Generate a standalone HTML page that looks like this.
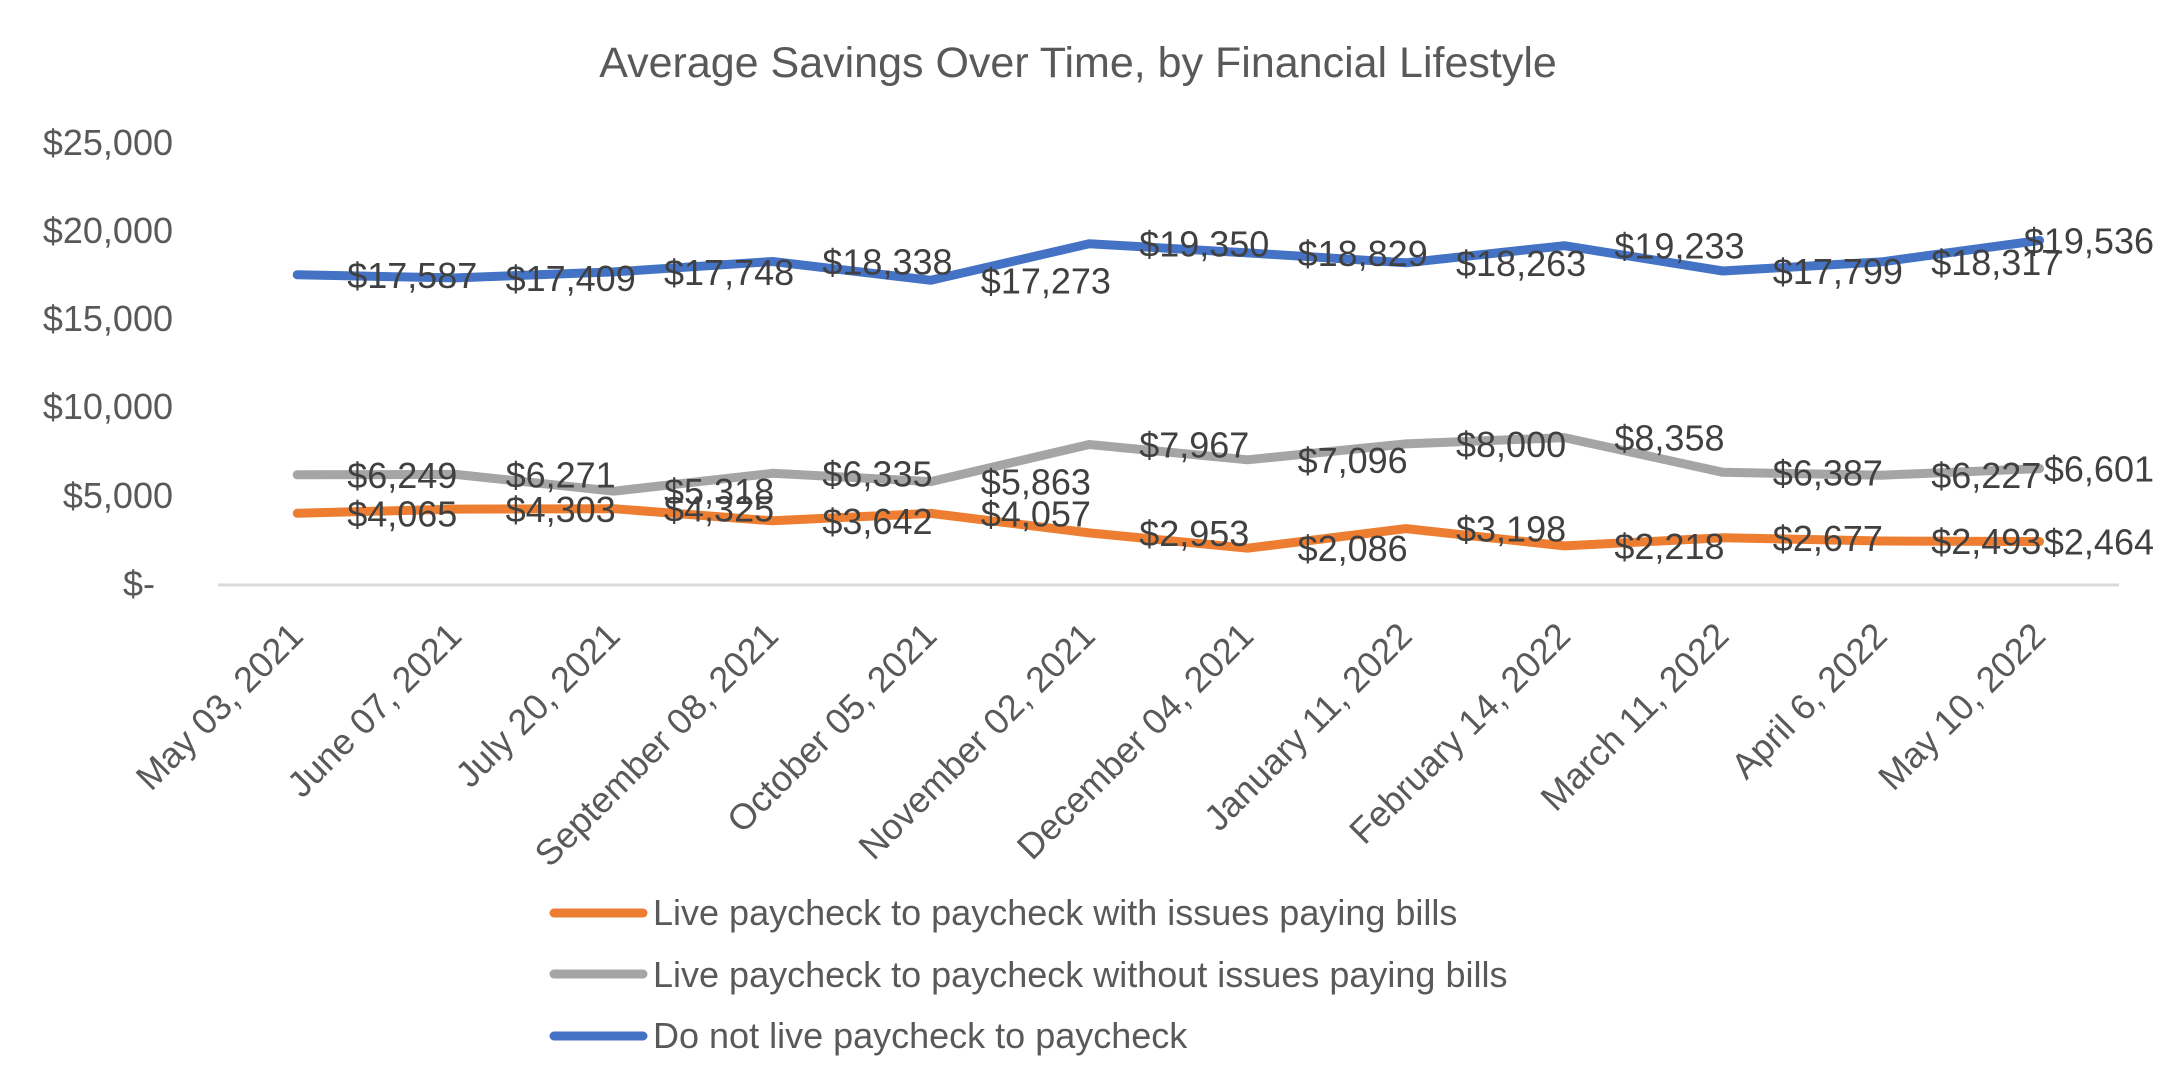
<!DOCTYPE html>
<html>
<head>
<meta charset="utf-8">
<style>
  html, body { margin: 0; padding: 0; background: #ffffff; }
  svg { display: block; }
  text { font-family: "Liberation Sans", Arial, sans-serif; }
</style>
</head>
<body>
<svg width="2177" height="1072" viewBox="0 0 2177 1072" xmlns="http://www.w3.org/2000/svg">
  <rect width="2177" height="1072" fill="#ffffff"/>

  <!-- Title -->
  <text x="1078" y="77" font-size="43" fill="#595959" text-anchor="middle">Average Savings Over Time, by Financial Lifestyle</text>

  <!-- Y axis labels -->
  <g font-size="36" fill="#595959" text-anchor="end">
    <text x="173" y="155">$25,000</text>
    <text x="173" y="243">$20,000</text>
    <text x="173" y="331">$15,000</text>
    <text x="173" y="419">$10,000</text>
    <text x="173" y="508">$5,000</text>
    <text x="155" y="596">$-</text>
  </g>

  <!-- X axis line -->
  <line x1="218" y1="585" x2="2119" y2="585" stroke="#d9d9d9" stroke-width="3"/>

  <!-- X axis labels -->
  <g font-size="36" fill="#595959" text-anchor="end">
    <text transform="translate(305.2,638) rotate(-45)">May 03, 2021</text>
    <text transform="translate(463.6,638) rotate(-45)">June 07, 2021</text>
    <text transform="translate(622,638) rotate(-45)">July 20, 2021</text>
    <text transform="translate(780.4,638) rotate(-45)">September 08, 2021</text>
    <text transform="translate(938.8,638) rotate(-45)">October 05, 2021</text>
    <text transform="translate(1097.2,638) rotate(-45)">November 02, 2021</text>
    <text transform="translate(1255.6,638) rotate(-45)">December 04, 2021</text>
    <text transform="translate(1414,638) rotate(-45)">January 11, 2022</text>
    <text transform="translate(1572.4,638) rotate(-45)">February 14, 2022</text>
    <text transform="translate(1730.8,638) rotate(-45)">March 11, 2022</text>
    <text transform="translate(1889.2,638) rotate(-45)">April 6, 2022</text>
    <text transform="translate(2047.6,638) rotate(-45)">May 10, 2022</text>
  </g>

  <!-- Series lines -->
  <g fill="none" stroke-width="9" stroke-linecap="round" stroke-linejoin="round">
    <polyline stroke="#ED7D31" points="297.2,513.3 455.6,509.1 614,508.7 772.4,520.8 930.8,513.4 1089.2,532.9 1247.6,548.2 1406,528.6 1564.4,545.9 1722.8,537.8 1881.2,541 2039.6,541.5"/>
    <polyline stroke="#A5A5A5" points="297.2,474.8 455.6,474.4 614,491.2 772.4,473.3 930.8,481.6 1089.2,444.5 1247.6,459.8 1406,443.9 1564.4,437.6 1722.8,472.3 1881.2,475.2 2039.6,468.6"/>
    <polyline stroke="#4472C4" points="297.2,274.8 455.6,277.9 614,271.9 772.4,261.5 930.8,280.3 1089.2,243.7 1247.6,252.9 1406,262.8 1564.4,245.7 1722.8,271 1881.2,261.9 2039.6,240.4"/>
  </g>

  <!-- Data labels: orange -->
  <g font-size="36" fill="#404040">
    <text x="347.2" y="526.3">$4,065</text>
    <text x="505.6" y="522.1">$4,303</text>
    <text x="664" y="521.7">$4,325</text>
    <text x="822.4" y="533.8">$3,642</text>
    <text x="980.8" y="526.4">$4,057</text>
    <text x="1139.2" y="545.9">$2,953</text>
    <text x="1297.6" y="561.2">$2,086</text>
    <text x="1456" y="541.6">$3,198</text>
    <text x="1614.4" y="558.9">$2,218</text>
    <text x="1772.8" y="550.8">$2,677</text>
    <text x="1931.2" y="554">$2,493</text>
    <text x="2154" y="554.5" text-anchor="end">$2,464</text>
  </g>

  <!-- Data labels: gray -->
  <g font-size="36" fill="#404040">
    <text x="347.2" y="487.8">$6,249</text>
    <text x="505.6" y="487.4">$6,271</text>
    <text x="664" y="504.2">$5,318</text>
    <text x="822.4" y="486.3">$6,335</text>
    <text x="980.8" y="494.6">$5,863</text>
    <text x="1139.2" y="457.5">$7,967</text>
    <text x="1297.6" y="472.8">$7,096</text>
    <text x="1456" y="456.9">$8,000</text>
    <text x="1614.4" y="450.6">$8,358</text>
    <text x="1772.8" y="485.3">$6,387</text>
    <text x="1931.2" y="488.2">$6,227</text>
    <text x="2154" y="481.6" text-anchor="end">$6,601</text>
  </g>

  <!-- Data labels: blue -->
  <g font-size="36" fill="#404040">
    <text x="347.2" y="287.8">$17,587</text>
    <text x="505.6" y="290.9">$17,409</text>
    <text x="664" y="284.9">$17,748</text>
    <text x="822.4" y="274.5">$18,338</text>
    <text x="980.8" y="293.3">$17,273</text>
    <text x="1139.2" y="256.7">$19,350</text>
    <text x="1297.6" y="265.9">$18,829</text>
    <text x="1456" y="275.8">$18,263</text>
    <text x="1614.4" y="258.7">$19,233</text>
    <text x="1772.8" y="284">$17,799</text>
    <text x="1931.2" y="274.9">$18,317</text>
    <text x="2154" y="253.4" text-anchor="end">$19,536</text>
  </g>

  <!-- Legend -->
  <g stroke-width="9" stroke-linecap="round">
    <line x1="554" y1="913" x2="643" y2="913" stroke="#ED7D31"/>
    <line x1="554" y1="974" x2="643" y2="974" stroke="#A5A5A5"/>
    <line x1="554" y1="1036" x2="643" y2="1036" stroke="#4472C4"/>
  </g>
  <g font-size="36" fill="#595959">
    <text x="653" y="925">Live paycheck to paycheck with issues paying bills</text>
    <text x="653" y="987">Live paycheck to paycheck without issues paying bills</text>
    <text x="653" y="1048">Do not live paycheck to paycheck</text>
  </g>
</svg>
</body>
</html>
